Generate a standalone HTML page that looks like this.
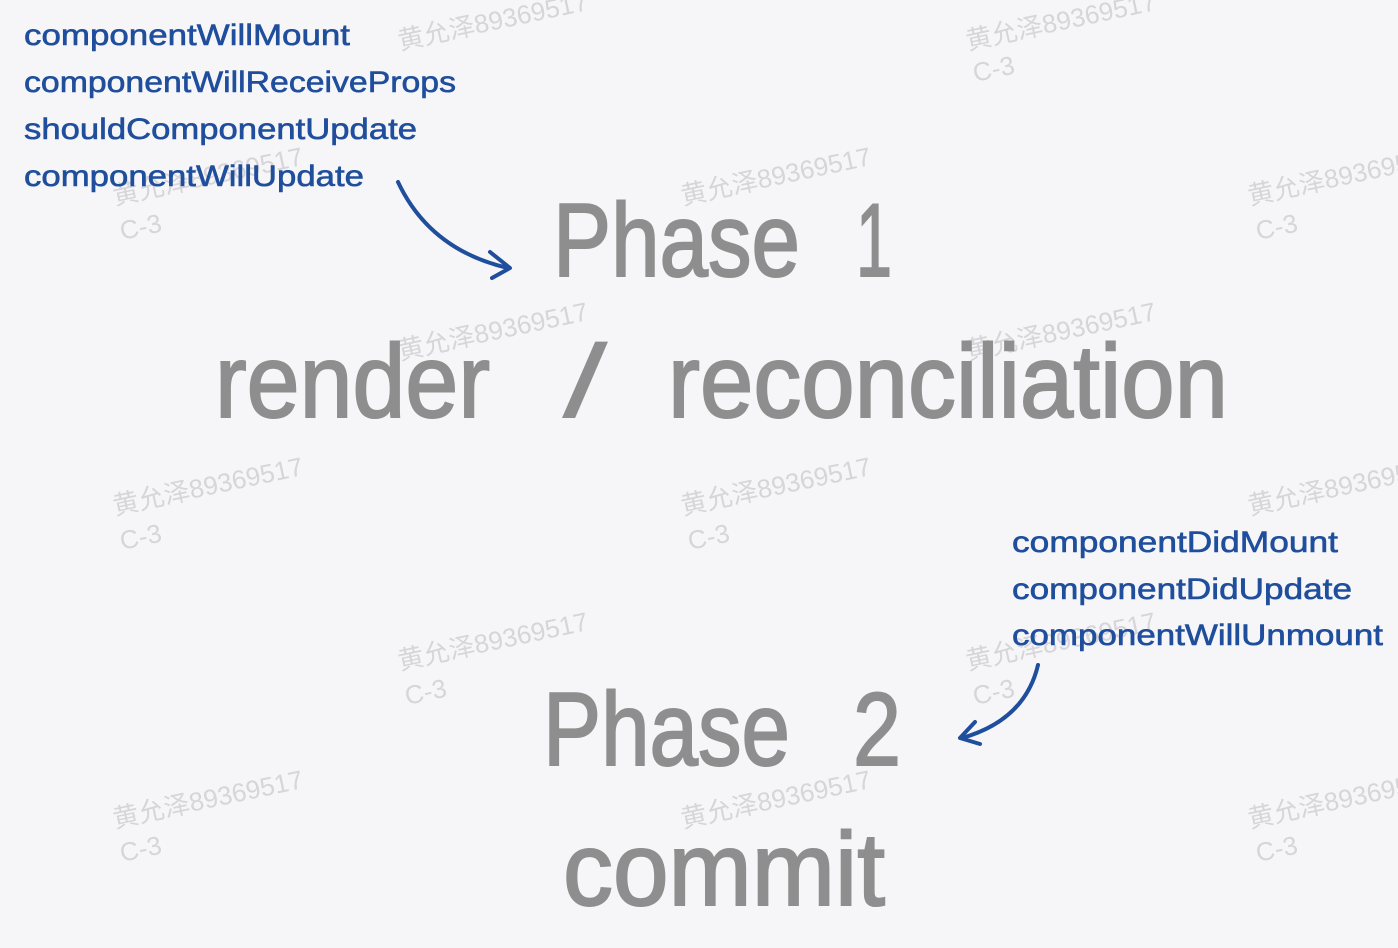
<!DOCTYPE html>
<html><head><meta charset="utf-8"><style>
html,body{margin:0;padding:0;background:#f6f6f8;}
svg{display:block;}
</style></head><body>
<svg width="1398" height="948" viewBox="0 0 1398 948" xmlns="http://www.w3.org/2000/svg">
<rect width="1398" height="948" fill="#f6f6f8"/>
<g font-family="Liberation Sans, Noto Sans CJK SC, sans-serif" font-size="26" fill="#d6d6da">
<text x="400" y="50" transform="rotate(-12 400 50)">黄允泽89369517</text>
<text x="968" y="50" transform="rotate(-12 968 50)">黄允泽89369517</text>
<text x="975" y="82" transform="rotate(-12 975 82)">C-3</text>
<text x="115" y="205" transform="rotate(-12 115 205)">黄允泽89369517</text>
<text x="122" y="240" transform="rotate(-12 122 240)">C-3</text>
<text x="683" y="205" transform="rotate(-12 683 205)">黄允泽89369517</text>
<text x="1250" y="205" transform="rotate(-12 1250 205)">黄允泽89369517</text>
<text x="1258" y="240" transform="rotate(-12 1258 240)">C-3</text>
<text x="400" y="360" transform="rotate(-12 400 360)">黄允泽89369517</text>
<text x="968" y="360" transform="rotate(-12 968 360)">黄允泽89369517</text>
<text x="115" y="515" transform="rotate(-12 115 515)">黄允泽89369517</text>
<text x="122" y="550" transform="rotate(-12 122 550)">C-3</text>
<text x="683" y="515" transform="rotate(-12 683 515)">黄允泽89369517</text>
<text x="690" y="550" transform="rotate(-12 690 550)">C-3</text>
<text x="1250" y="515" transform="rotate(-12 1250 515)">黄允泽89369517</text>
<text x="400" y="670" transform="rotate(-12 400 670)">黄允泽89369517</text>
<text x="407" y="705" transform="rotate(-12 407 705)">C-3</text>
<text x="968" y="670" transform="rotate(-12 968 670)">黄允泽89369517</text>
<text x="975" y="705" transform="rotate(-12 975 705)">C-3</text>
<text x="115" y="828" transform="rotate(-12 115 828)">黄允泽89369517</text>
<text x="122" y="862" transform="rotate(-12 122 862)">C-3</text>
<text x="683" y="828" transform="rotate(-12 683 828)">黄允泽89369517</text>
<text x="1250" y="828" transform="rotate(-12 1250 828)">黄允泽89369517</text>
<text x="1258" y="862" transform="rotate(-12 1258 862)">C-3</text>
</g>
<g font-family="Liberation Sans, sans-serif" font-size="30" fill="#1f4e9c" stroke="#1f4e9c" stroke-width="0.6">
<text x="24" y="45" textLength="326" lengthAdjust="spacingAndGlyphs">componentWillMount</text>
<text x="24" y="92" textLength="432" lengthAdjust="spacingAndGlyphs">componentWillReceiveProps</text>
<text x="24" y="139" textLength="393" lengthAdjust="spacingAndGlyphs">shouldComponentUpdate</text>
<text x="24" y="186" textLength="340" lengthAdjust="spacingAndGlyphs">componentWillUpdate</text>
<text x="1012" y="552" textLength="326" lengthAdjust="spacingAndGlyphs">componentDidMount</text>
<text x="1012" y="599" textLength="340" lengthAdjust="spacingAndGlyphs">componentDidUpdate</text>
<text x="1012" y="645" textLength="371" lengthAdjust="spacingAndGlyphs">componentWillUnmount</text>
</g>
<g font-family="Liberation Sans, sans-serif" font-size="104" fill="#8e8e8e" stroke="#8e8e8e" stroke-width="2">
<text x="553" y="276" textLength="247" lengthAdjust="spacingAndGlyphs">Phase</text>
<text x="856" y="276" textLength="36" lengthAdjust="spacingAndGlyphs">1</text>
<text x="215" y="417" textLength="275" lengthAdjust="spacingAndGlyphs">render</text>
<text x="562" y="417" textLength="46" lengthAdjust="spacingAndGlyphs" stroke-width="0">/</text>
<text x="668" y="417" textLength="560" lengthAdjust="spacingAndGlyphs">reconciliation</text>
<text x="543" y="765" textLength="247" lengthAdjust="spacingAndGlyphs">Phase</text>
<text x="853" y="765" textLength="48" lengthAdjust="spacingAndGlyphs">2</text>
<text x="563" y="905" textLength="322" lengthAdjust="spacingAndGlyphs">commit</text>
</g>
<g fill="none" stroke="#1f4e9c" stroke-width="4" stroke-linecap="round" stroke-linejoin="round">
<path d="M398 182 Q430 250 508 268"/>
<path d="M490 252 L510 268 L492 278"/>
<path d="M1038 665 Q1025 720 962 738"/>
<path d="M975 722 L960 738 L980 744"/>
</g>
</svg>
</body></html>
